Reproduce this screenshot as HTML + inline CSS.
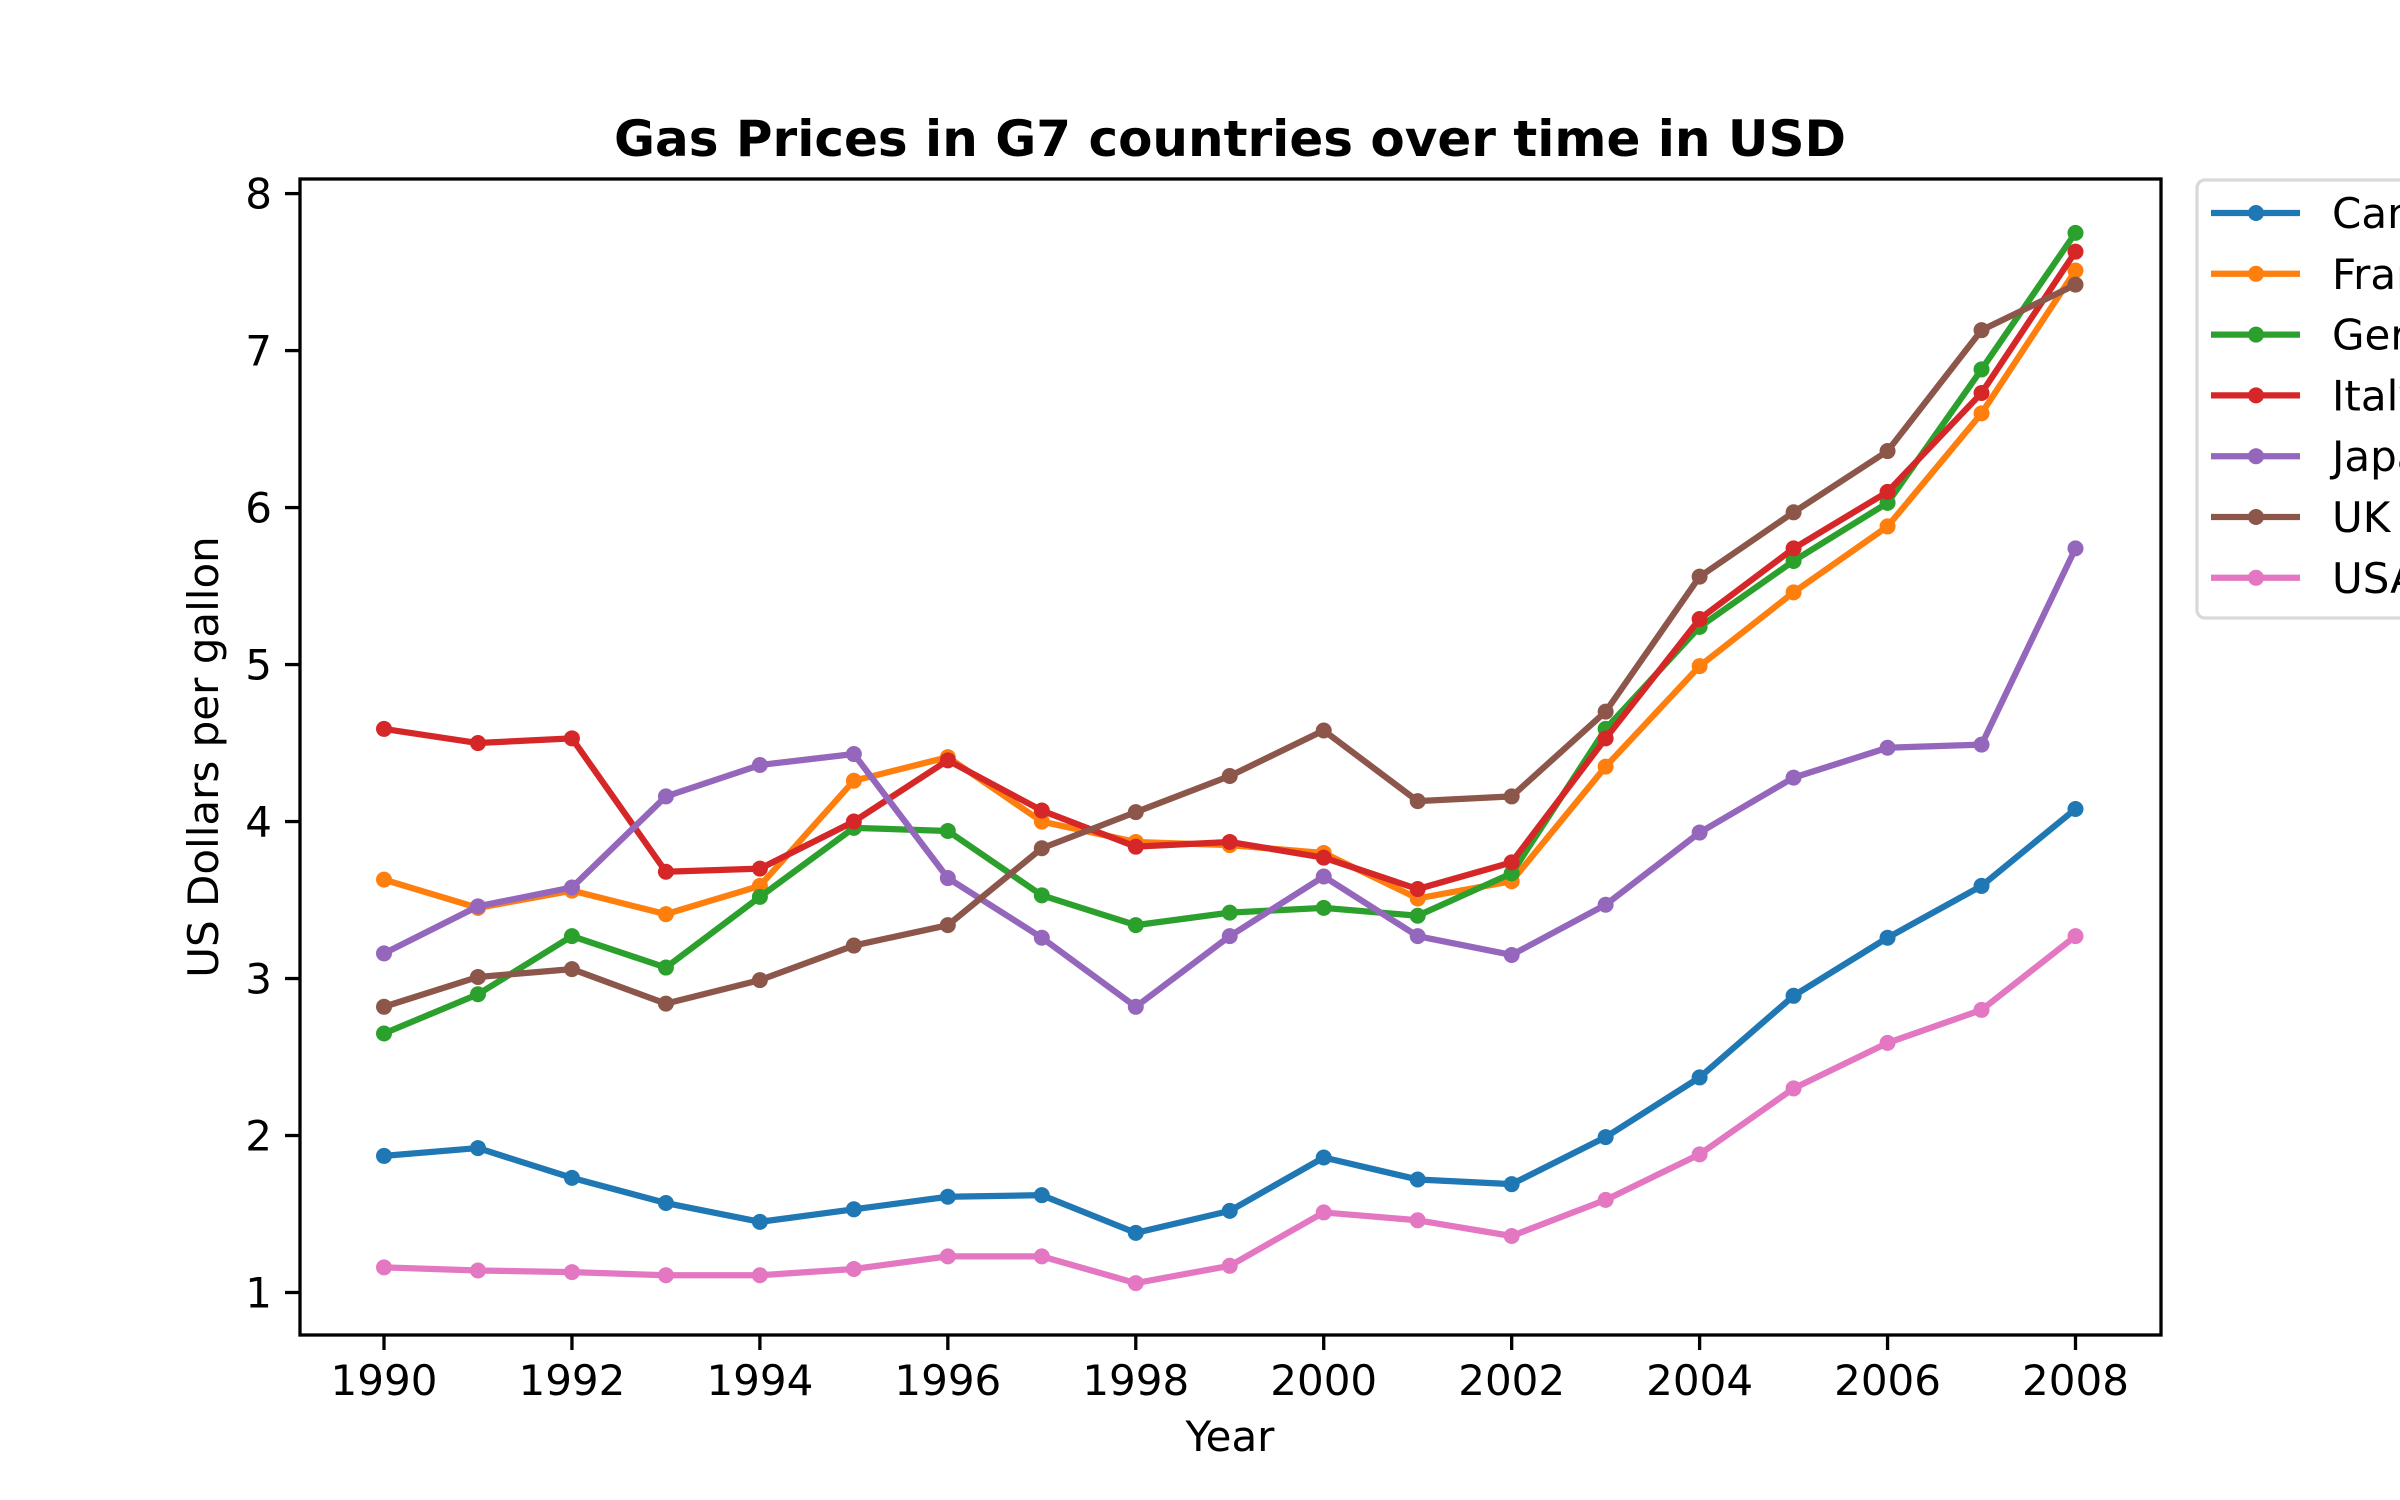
<!DOCTYPE html>
<html><head><meta charset="utf-8"><style>
html,body{margin:0;padding:0;background:#fff}
svg{display:block}
text{font-family:"DejaVu Sans","Liberation Sans",sans-serif;fill:#000}
</style></head><body>
<svg id="chart" width="2400" height="1500" viewBox="0 0 2400 1500" xmlns="http://www.w3.org/2000/svg">
<rect width="2400" height="1500" fill="#fff"/>
<text x="1230" y="156" text-anchor="middle" font-size="50" font-weight="bold">Gas Prices in G7 countries over time in USD</text>
<g id="marks"></g>
<rect x="300" y="179" width="1861" height="1156" fill="none" stroke="#000" stroke-width="3.3"/>
<g id="xticks"></g>
<g id="yticks"></g>
<text x="1230" y="1451" text-anchor="middle" font-size="42">Year</text>
<text transform="translate(218,757) rotate(-90)" text-anchor="middle" font-size="42">US Dollars per gallon</text>
<g id="legend"></g>
</svg>
<script>
const years = [1990,1991,1992,1993,1994,1995,1996,1997,1998,1999,2000,2001,2002,2003,2004,2005,2006,2007,2008];
const countries = ["Canada","France","Germany","Italy","Japan","UK","USA"];
const canada = [1.87,1.92,1.73,1.57,1.45,1.53,1.61,1.62,1.38,1.52,1.86,1.72,1.69,1.99,2.37,2.89,3.26,3.59,4.08];
const france = [3.63,3.45,3.56,3.41,3.59,4.26,4.41,4.00,3.87,3.85,3.80,3.51,3.62,4.35,4.99,5.46,5.88,6.60,7.51];
const germany = [2.65,2.90,3.27,3.07,3.52,3.96,3.94,3.53,3.34,3.42,3.45,3.40,3.67,4.59,5.24,5.66,6.03,6.88,7.75];
const italy = [4.59,4.50,4.53,3.68,3.70,4.00,4.39,4.07,3.84,3.87,3.77,3.57,3.74,4.53,5.29,5.74,6.10,6.73,7.63];
const japan = [3.16,3.46,3.58,4.16,4.36,4.43,3.64,3.26,2.82,3.27,3.65,3.27,3.15,3.47,3.93,4.28,4.47,4.49,5.74];
const uk = [2.82,3.01,3.06,2.84,2.99,3.21,3.34,3.83,4.06,4.29,4.58,4.13,4.16,4.70,5.56,5.97,6.36,7.13,7.42];
const usa = [1.16,1.14,1.13,1.11,1.11,1.15,1.23,1.23,1.06,1.17,1.51,1.46,1.36,1.59,1.88,2.30,2.59,2.80,3.27];
const xTicks = [1990,1992,1994,1996,1998,2000,2002,2004,2006,2008];
const yTicks = [1,2,3,4,5,6,7,8];

const series = [canada,france,germany,italy,japan,uk,usa];
const colors = ["#1f77b4","#ff7f0e","#2ca02c","#d62728","#9467bd","#8c564b","#e377c2"];
const NS = "http://www.w3.org/2000/svg";
function xs(v){ return 384 + (v-1990)*(2075.5-384)/18; }
function ys(v){ return 1292.5 - (v-1)*(1292.5-193.6)/7; }
function mk(tag, attrs, parent){ const e=document.createElementNS(NS,tag); for(const k in attrs) e.setAttribute(k,attrs[k]); parent.appendChild(e); return e; }

const marks=document.getElementById('marks');
series.forEach((s,i)=>{
  const g=mk('g',{},marks);
  
  
  const pts=s.map((v,j)=>xs(years[j])+','+ys(v)).join(' ');
  const pl=mk('polyline',{points:pts,fill:'none',stroke:colors[i],'stroke-width':6.25,'stroke-linejoin':'round','stroke-linecap':'square'},g);
  
  
  s.forEach((v,j)=>{
    const c=mk('circle',{cx:xs(years[j]),cy:ys(v),r:8,fill:colors[i]},g);
    
    
  });
});

const xt=document.getElementById('xticks');
xTicks.forEach(t=>{
  const l=mk('line',{x1:xs(t),x2:xs(t),y1:1335,y2:1350,stroke:'#000','stroke-width':3.3},xt);
  
  
  const tx=mk('text',{x:xs(t),y:1395,'text-anchor':'middle','font-size':42},xt);
  tx.textContent=t;
  
  
});
const yt=document.getElementById('yticks');
yTicks.forEach(t=>{
  const l=mk('line',{x1:285,x2:300,y1:ys(t),y2:ys(t),stroke:'#000','stroke-width':3.3},yt);
  
  
  const tx=mk('text',{x:272,y:ys(t)+15,'text-anchor':'end','font-size':42},yt);
  tx.textContent=t;
  
  
});

const lg=document.getElementById('legend');
mk('rect',{x:2197,y:180,width:260,height:438,rx:8,fill:'#fff','fill-opacity':0.8,stroke:'#d9d9d9','stroke-width':3.3},lg);
countries.forEach((c,i)=>{
  const y=213+i*60.8;
  const g=mk('g',{},lg);
  
  
  mk('line',{x1:2211,x2:2300,y1:y,y2:y,stroke:colors[i],'stroke-width':6.25},g);
  mk('circle',{cx:2256,cy:y,r:8,fill:colors[i]},g);
  const tx=mk('text',{x:2332,y:y+15,'font-size':42},g);
  tx.textContent=c;
});
</script>
</body></html>
